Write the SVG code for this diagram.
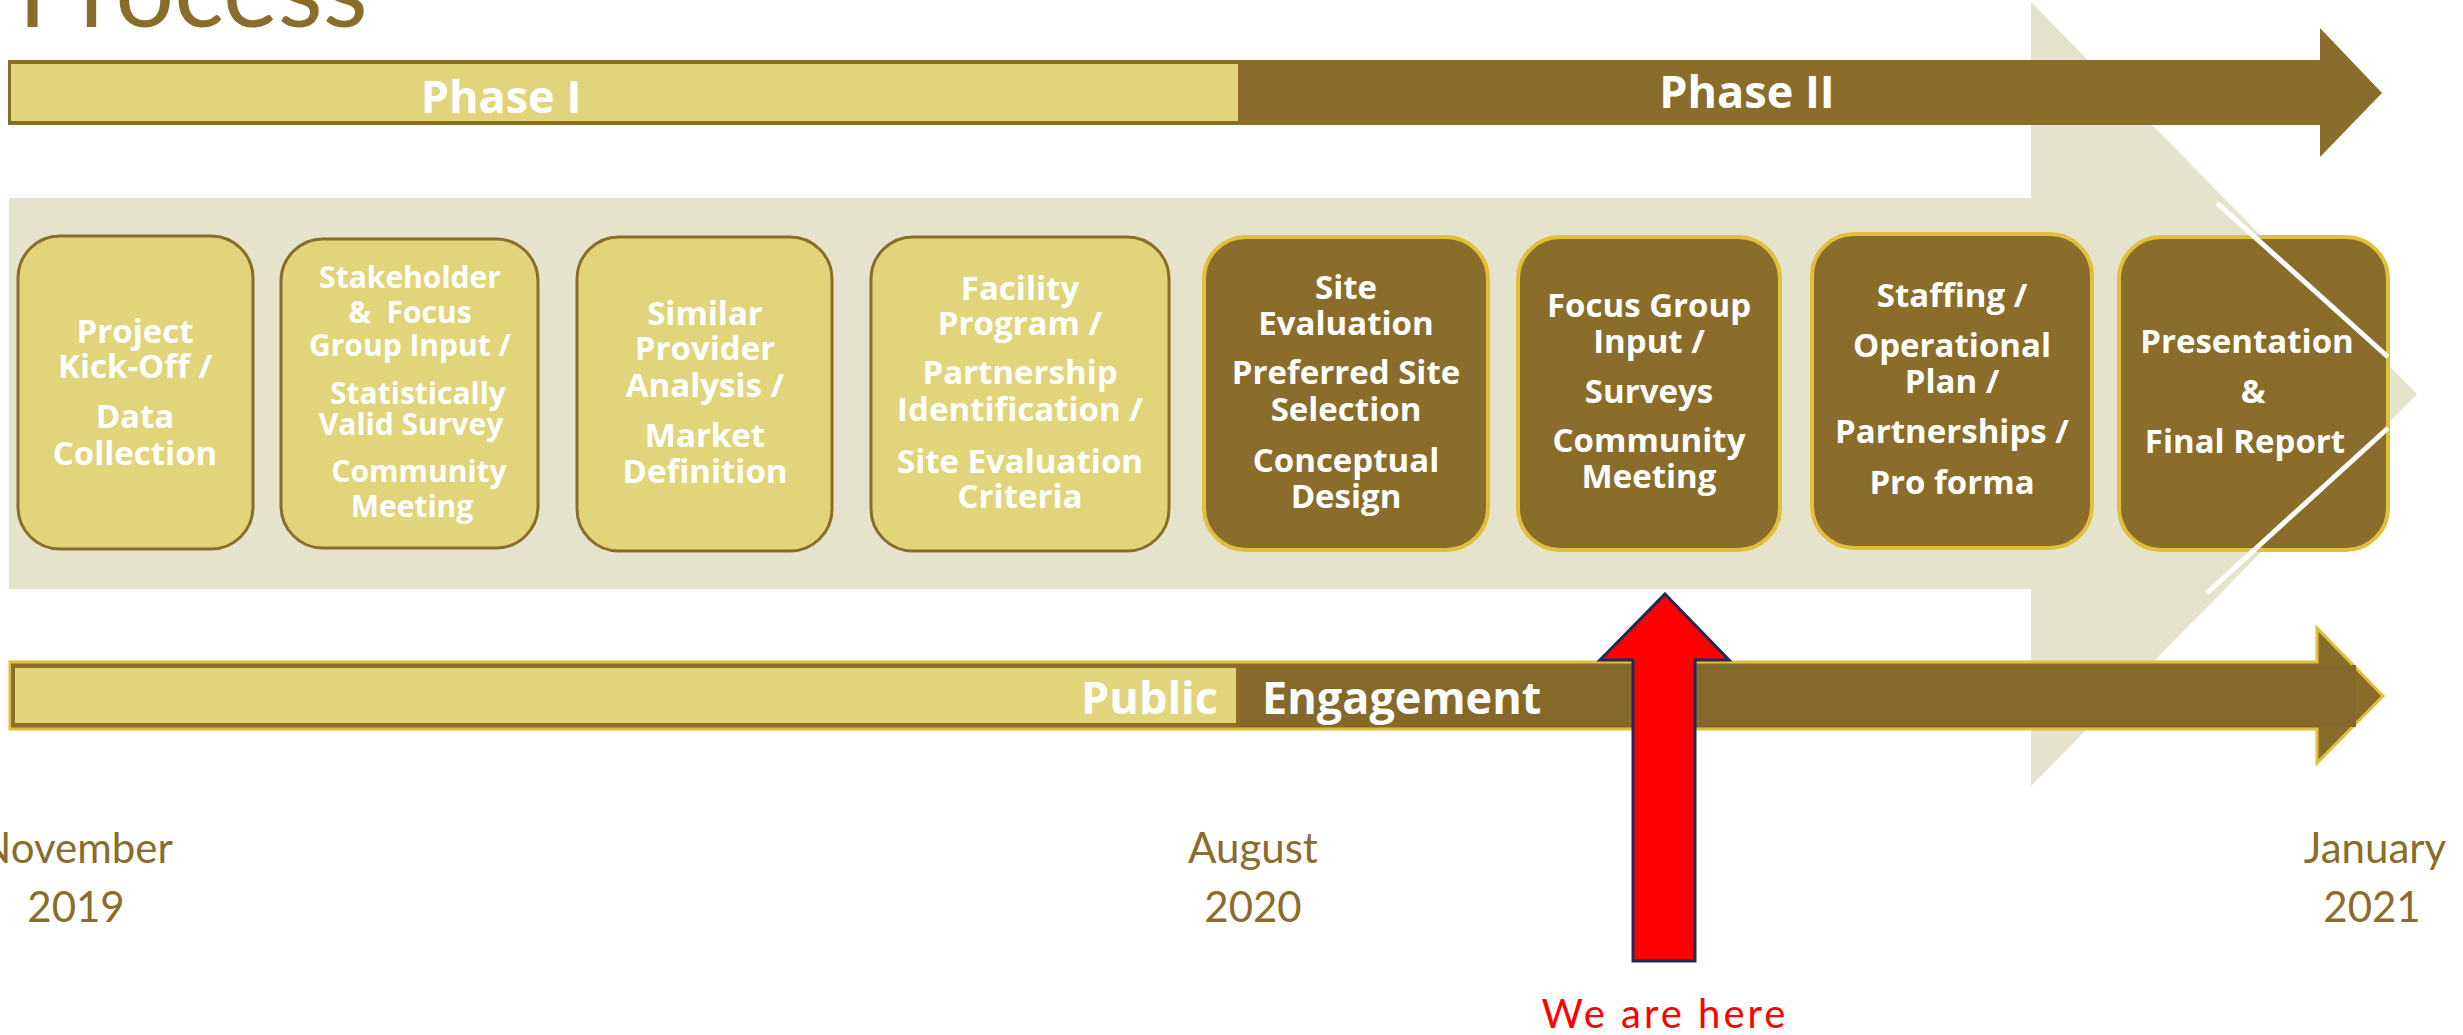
<svg xmlns="http://www.w3.org/2000/svg" width="2463" height="1035" viewBox="0 0 2463 1035">
  <style>
    .bt { font-family: "Open Sans", "Liberation Sans", sans-serif; font-weight: 700; fill: #FFFFFF; text-anchor: middle; font-size: 33px; }
    .bt2 { font-size: 30px; }
    .bar { font-family: "Open Sans", "Liberation Sans", sans-serif; font-weight: 700; fill: #FFFFFF; font-size: 45px; }
    .date { font-family: Lato, "Liberation Sans", sans-serif; font-weight: 400; fill: #8A6D2B; text-anchor: middle; font-size: 42px; }
    .p1 { fill: #E2D47A; stroke: #8A6D2B; stroke-width: 3; }
    .p2 { fill: #8A6D2B; stroke: #E2BF3A; stroke-width: 4; }
  </style>

  <rect width="2463" height="1035" fill="#FFFFFF"/>

  <!-- title -->
  <text x="18" y="27" font-family="Lato, 'Liberation Sans', sans-serif" font-size="104" fill="#8A6D2B">Process</text>

  <!-- large background chevron -->
  <g id="backdrop">
    <path d="M9,198 H2031 V2 L2417,394 L2031,786 V589 H9 Z" fill="#E5E3CB"/>
  </g>

  <!-- phase timeline arrow -->
  <g id="phase-bar">
    <path d="M8,60 H2320 V28 L2382,93 L2320,157 V125 H8 Z" fill="#8A6D2B"/>
    <rect x="11" y="64" width="1227" height="57" fill="#E2D47A"/>
    <text class="bar" x="501" y="113" text-anchor="middle">Phase I</text>
    <text class="bar" x="1747" y="108" text-anchor="middle">Phase II</text>
  </g>

  <!-- steps -->
  <g id="step-1">
    <rect class="p1" x="18" y="236" width="235" height="313" rx="42"/>
    <text class="bt" x="135" y="343">Project</text>
    <text class="bt" x="135" y="378">Kick-Off /</text>
    <text class="bt" x="135" y="428">Data</text>
    <text class="bt" x="135" y="465">Collection</text>
  </g>
  <g id="step-2">
    <rect class="p1" x="281" y="239" width="257" height="309" rx="42"/>
    <text class="bt bt2" x="410" y="288">Stakeholder</text>
    <text class="bt bt2" x="410" y="323" xml:space="preserve">&amp;  Focus</text>
    <text class="bt bt2" x="410" y="356">Group Input /</text>
    <text class="bt bt2" x="418" y="404">Statistically</text>
    <text class="bt bt2" x="411" y="435">Valid Survey</text>
    <text class="bt bt2" x="419" y="482">Community</text>
    <text class="bt bt2" x="412" y="517">Meeting</text>
  </g>
  <g id="step-3">
    <rect class="p1" x="577" y="237" width="255" height="314" rx="42"/>
    <text class="bt" x="705" y="325">Similar</text>
    <text class="bt" x="705" y="360">Provider</text>
    <text class="bt" x="705" y="397">Analysis /</text>
    <text class="bt" x="705" y="447">Market</text>
    <text class="bt" x="705" y="483">Definition</text>
  </g>
  <g id="step-4">
    <rect class="p1" x="871" y="237" width="298" height="314" rx="42"/>
    <text class="bt" x="1020" y="300">Facility</text>
    <text class="bt" x="1020" y="335">Program /</text>
    <text class="bt" x="1020" y="384">Partnership</text>
    <text class="bt" x="1020" y="421">Identification /</text>
    <text class="bt" x="1020" y="473">Site Evaluation</text>
    <text class="bt" x="1020" y="508">Criteria</text>
  </g>
  <g id="step-5">
    <rect class="p2" x="1204" y="237" width="284" height="313" rx="42"/>
    <text class="bt" x="1346" y="299">Site</text>
    <text class="bt" x="1346" y="335">Evaluation</text>
    <text class="bt" x="1346" y="384">Preferred Site</text>
    <text class="bt" x="1346" y="421">Selection</text>
    <text class="bt" x="1346" y="472">Conceptual</text>
    <text class="bt" x="1346" y="508">Design</text>
  </g>
  <g id="step-6">
    <rect class="p2" x="1518" y="237" width="262" height="313" rx="42"/>
    <text class="bt" x="1649" y="317">Focus Group</text>
    <text class="bt" x="1649" y="353">Input /</text>
    <text class="bt" x="1649" y="403">Surveys</text>
    <text class="bt" x="1649" y="452">Community</text>
    <text class="bt" x="1649" y="488">Meeting</text>
  </g>
  <g id="step-7">
    <rect class="p2" x="1812" y="234" width="280" height="314" rx="42"/>
    <text class="bt" x="1952" y="307">Staffing /</text>
    <text class="bt" x="1952" y="357">Operational</text>
    <text class="bt" x="1952" y="393">Plan /</text>
    <text class="bt" x="1952" y="443">Partnerships /</text>
    <text class="bt" x="1952" y="494">Pro forma</text>
  </g>
  <g id="step-8">
    <rect class="p2" x="2119" y="237" width="269" height="313" rx="42"/>
    <text class="bt" x="2247" y="353">Presentation</text>
    <text class="bt" x="2253" y="403">&amp;</text>
    <text class="bt" x="2245" y="453">Final Report</text>
  </g>

  <!-- white chevron accent over the last step -->
  <g id="accent" stroke="#FFFFFF" stroke-width="5" fill="none">
    <line x1="2217" y1="203" x2="2388" y2="357"/>
    <line x1="2388" y1="428" x2="2207" y2="593"/>
  </g>

  <!-- public engagement arrow -->
  <g id="engagement-bar">
    <path d="M10,662 H2317 V628 L2383,696 L2317,763 V729 H10 Z" fill="#8A6D2B" stroke="#E2BF3A" stroke-width="3"/>
    <rect x="1124" y="665" width="1232" height="62" fill="#85692A"/>
    <rect x="13" y="666" width="1225" height="59" fill="#E2D47A" stroke="#8A6D2B" stroke-width="4"/>
    <text class="bar" x="1218" y="714" text-anchor="end" font-size="44">Public</text>
    <text class="bar" x="1262" y="714" font-size="44">Engagement</text>
  </g>

  <!-- dates -->
  <g id="dates">
    <text class="date" x="76" y="863">November</text>
    <text class="date" x="76" y="922">2019</text>
    <text class="date" x="1253" y="863">August</text>
    <text class="date" x="1253" y="922">2020</text>
    <text class="date" x="2375" y="863">January</text>
    <text class="date" x="2372" y="922">2021</text>
  </g>

  <!-- current position marker -->
  <g id="connectors">
    <path d="M1665,594 L1729,660 H1695 V961 H1633 V660 H1600 Z" fill="#FF0000" stroke="#1F2A5A" stroke-width="3" stroke-linejoin="miter"/>
  </g>
  <g id="marker-label">
    <text x="1665" y="1028" text-anchor="middle" font-family="Lato, 'Liberation Sans', sans-serif" font-size="40" letter-spacing="3" fill="#FF0000">We are here</text>
  </g>
</svg>
